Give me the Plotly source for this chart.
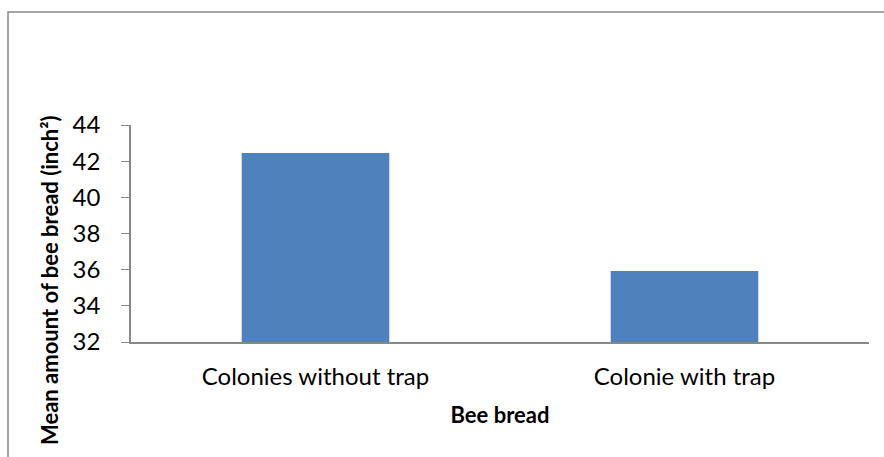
import plotly.graph_objects as go

categories = ["Colonies without trap", "Colonie with trap"]
values = [42.45, 35.93]
y_ticks = [32, 34, 36, 38, 40, 42, 44]

W, H = 884, 457
ml, mr, mt, mb = 131, 15, 125, 115
pw, ph = W - ml - mr, H - mt - mb

fig = go.Figure(go.Bar(x=categories, y=values, marker_color="#4F81BD",
                       marker_line_width=0, width=0.4))

font = "Lato"
fig.update_layout(
    width=W, height=H, margin=dict(l=ml, r=mr, t=mt, b=mb),
    plot_bgcolor="white", paper_bgcolor="white", showlegend=False,
    font=dict(family=font, color="black"),
)
fig.update_xaxes(showline=True, linecolor="#888888", linewidth=1.5, ticks="",
                 tickfont=dict(size=24, family=font), showgrid=False,
                 ticklabelstandoff=12,
                 title=dict(text="<b>Bee bread</b>", font=dict(size=22, family=font), standoff=19))
fig.update_yaxes(range=[32, 44], tickvals=y_ticks, showline=True, linecolor="#888888",
                 linewidth=1.5, ticks="outside", ticklen=8, tickcolor="#888888",
                 ticklabelstandoff=16,
                 tickfont=dict(size=24, family=font), showgrid=False, zeroline=False)

fig.add_annotation(text="<b>Mean amount of bee bread (inch²)</b>", textangle=-90,
                   xref="paper", yref="paper", x=(49 - ml) / pw, y=1 - (280 - mt) / ph,
                   showarrow=False, font=dict(size=22, family=font), xanchor="center", yanchor="middle")

fig.add_shape(type="rect", xref="paper", yref="paper",
              x0=(8 - ml) / pw, y0=-1.0, x1=1.2, y1=1 + (mt - 12) / ph,
              line=dict(color="#888888", width=1.5), fillcolor="rgba(0,0,0,0)", layer="below")

fig.write_html("out.html")
